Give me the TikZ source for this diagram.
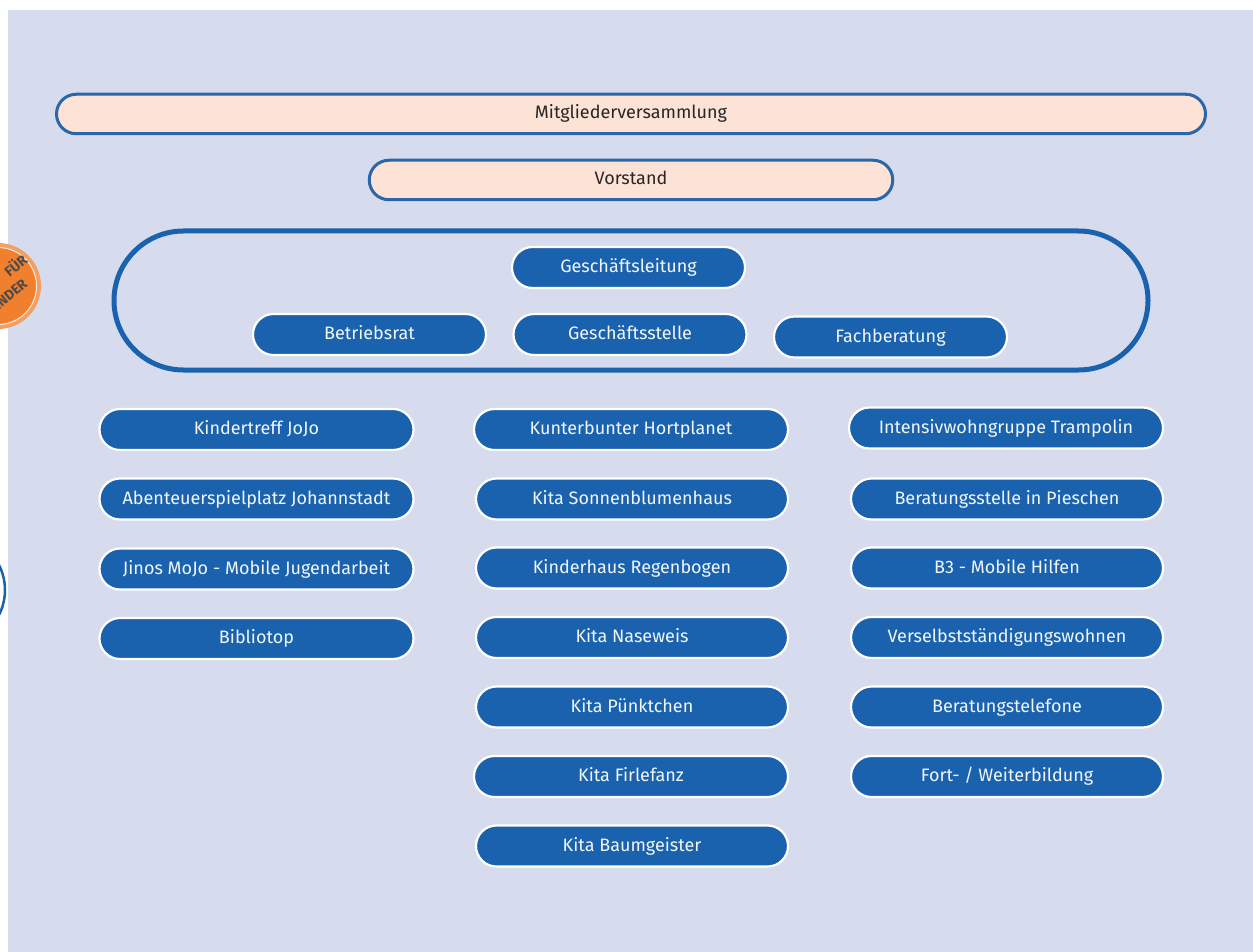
\documentclass[tikz,border=0pt]{standalone}
\usepackage{fontspec}
\setmainfont{Fira Sans}
\usetikzlibrary{shapes.misc}
\definecolor{bgc}{HTML}{D6DCEE}
\definecolor{peach}{HTML}{FCE3D6}
\definecolor{edgeb}{HTML}{2A66A8}
\definecolor{blu}{HTML}{1A62AD}
\definecolor{orng}{HTML}{F07F2E}
\tikzset{
  pill/.style={rounded rectangle, draw=white, line width=2.2pt, fill=blu, text=blu!6!white, inner sep=0pt,
    text height=13pt, text depth=3pt,
    font=\fontsize{18}{20}\selectfont, minimum width=#1, minimum height=41pt},
  head/.style={rounded rectangle, draw=edgeb, line width=3pt, fill=peach, text=black!85, inner sep=0pt,
    text height=13pt, text depth=3pt,
    font=\fontsize{18}{20}\selectfont, minimum height=39.5pt, minimum width=#1},
  badgetext/.style={rotate=40,text=black!70,font=\bfseries\fontsize{14}{15}\selectfont,inner sep=0pt},
}
\begin{document}
\begin{tikzpicture}[x=1pt,y=-1pt]
\useasboundingbox (0,0) rectangle (1253,952);
\fill[bgc] (8,10) rectangle (1253,952);
% cut-off circles at left edge
\node[circle,fill=orng!75!white,minimum size=86pt,inner sep=0pt] (badge) at (-2,286) {};
\node[circle,draw=white!85!orng,line width=1pt,fill=orng,minimum size=77pt,inner sep=0pt] (badgein) at (-2,286) {};
\node[badgetext] (fuer) at (15,265) {FÜR};
\node[badgetext] (kinder) at (7,297) {KINDER};
\node[circle,draw=blu,line width=2.5pt,minimum size=110pt,inner sep=0pt] (ring) at (-50,590) {};
% top
\node[head=1149pt] (mv) at (631,114) {Mitgliederversammlung};
\node[head=523.5pt] (vs) at (631,180) {Vorstand};
\node[rounded rectangle,draw=blu,line width=5pt,minimum width=1034pt,minimum height=139pt,inner sep=0pt] (gl) at (631,300.5) {};
\node[pill=233pt] (gf) at (628.5,267.5) {Geschäftsleitung};
\node[pill=233pt] (br) at (369.5,334.5) {Betriebsrat};
\node[pill=233pt] (gs) at (630,334.5) {Geschäftsstelle};
\node[pill=233pt] (fb) at (890.5,337) {Fachberatung};
% left
\node[pill=314pt] (a1) at (256.5,429.5) {Kindertreff JoJo};
\node[pill=314pt] (a2) at (256.5,499) {Abenteuerspielplatz Johannstadt};
\node[pill=314pt] (a3) at (256.5,569) {Jinos MoJo - Mobile Jugendarbeit};
\node[pill=314pt] (a4) at (256.5,638.5) {Bibliotop};
% middle
\node[pill=314pt] (b1) at (631,429.5) {Kunterbunter Hortplanet};
\node[pill=312pt] (b2) at (632,499) {Kita Sonnenblumenhaus};
\node[pill=312pt] (b3) at (632,568) {Kinderhaus Regenbogen};
\node[pill=312pt] (b4) at (632,637.5) {Kita Naseweis};
\node[pill=312pt] (b5) at (632,707) {Kita Pünktchen};
\node[pill=314pt] (b6) at (631,776.5) {Kita Firlefanz};
\node[pill=312pt] (b7) at (632,846) {Kita Baumgeister};
% right
\node[pill=314pt] (c1) at (1006,428) {Intensivwohngruppe Trampolin};
\node[pill=312pt] (c2) at (1007,499) {Beratungsstelle in Pieschen};
\node[pill=312pt] (c3) at (1007,568) {B3 - Mobile Hilfen};
\node[pill=312pt] (c4) at (1007,637.5) {Verselbstständigungswohnen};
\node[pill=312pt] (c5) at (1007,707) {Beratungstelefone};
\node[pill=312pt] (c6) at (1007,776.5) {Fort- / Weiterbildung};
\end{tikzpicture}
\end{document}
